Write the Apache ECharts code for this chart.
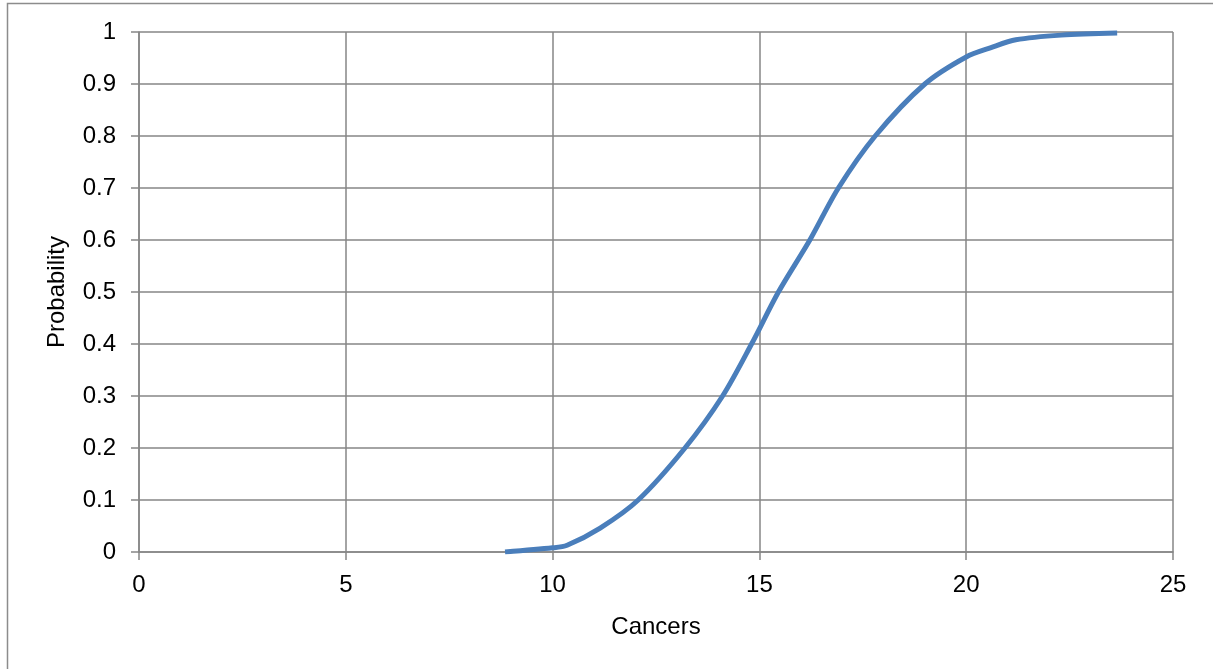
<!DOCTYPE html>
<html><head><meta charset="utf-8">
<script src="https://cdn.jsdelivr.net/npm/echarts@6/dist/echarts.min.js"></script>
<style>html,body{margin:0;padding:0;background:#fff}#c{width:1213px;height:669px}</style>
</head><body><div id="c"></div>
<script>
const cancers = [8.85, 10.0, 10.35, 11.15, 12.07, 13.2, 14.11, 14.81, 15.46, 16.22, 16.91, 17.8, 19.0, 20.0, 20.6, 21.2, 22.3, 23.65];
const probability = [0, 0.008, 0.013, 0.046, 0.1, 0.2, 0.3, 0.4, 0.5, 0.6, 0.7, 0.8, 0.9, 0.952, 0.97, 0.985, 0.994, 0.998];
const xTitle = 'Cancers';
const yTitle = 'Probability';
const FONT = '"Liberation Sans", Arial, sans-serif';
const chart = echarts.init(document.getElementById('c'), null, {renderer: 'canvas'});
chart.setOption({
  animation: false,
  graphic: [{type: 'rect', shape: {x: 7.5, y: 3.5, width: 1220, height: 700}, style: {fill: 'none', stroke: '#8c8c8c', lineWidth: 1.5}}],
  grid: {left: 139, right: 40, top: 32, bottom: 117},
  xAxis: {
    type: 'value', min: 0, max: 25, interval: 5,
    name: xTitle, nameLocation: 'middle', nameGap: 63,
    nameTextStyle: {fontFamily: FONT, fontSize: 24, color: '#000'},
    axisLine: {show: true, lineStyle: {color: '#868686', width: 1.5}},
    axisTick: {show: true, length: 8, lineStyle: {color: '#868686', width: 1.5}},
    axisLabel: {fontFamily: FONT, fontSize: 24, color: '#000', margin: 21},
    splitLine: {show: true, lineStyle: {color: '#868686', width: 1.5}}
  },
  yAxis: {
    type: 'value', min: 0, max: 1, interval: 0.1,
    name: yTitle, nameLocation: 'middle', nameGap: 70,
    nameTextStyle: {fontFamily: FONT, fontSize: 24, color: '#000'},
    axisLine: {show: true, lineStyle: {color: '#868686', width: 1.5}},
    axisTick: {show: true, length: 8, lineStyle: {color: '#868686', width: 1.5}},
    axisLabel: {fontFamily: FONT, fontSize: 24, color: '#000', margin: 23, formatter: v => String(Math.round(v*10)/10)},
    splitLine: {show: true, lineStyle: {color: '#868686', width: 1.5}}
  },
  series: [{
    type: 'line', smooth: 0.3, showSymbol: false,
    data: cancers.map((c, i) => [c, probability[i]]),
    lineStyle: {color: '#4a7ebb', width: 5}
  }]
});
</script></body></html>
